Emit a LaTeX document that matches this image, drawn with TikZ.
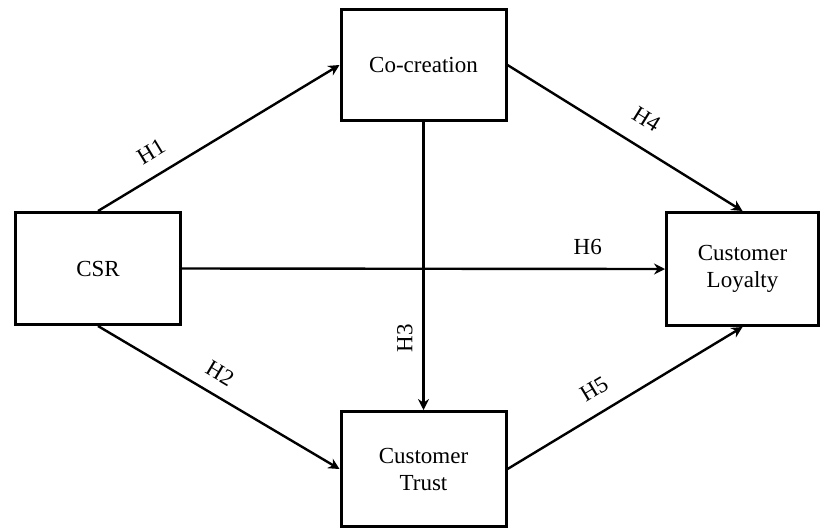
\documentclass[tikz,border=0pt]{standalone}
\usepackage{fontspec}
\setmainfont{Liberation Serif}
\usetikzlibrary{arrows.meta}

\begin{document}
\begin{tikzpicture}[x=0.5pt,y=-0.5pt,
  box/.style={draw,line width=1.5pt,minimum width=82.5pt,minimum height=56pt,inner sep=0pt,align=center,font=\fontsize{11.5}{13.5}\selectfont},
  link/.style={line width=1.2pt,-{Stealth[length=5.5pt,width=5.5pt,inset=1.8pt]}},
  hyp/.style={font=\fontsize{11.5}{13.5}\selectfont}]
\useasboundingbox (0,0) rectangle (822,531);
\draw (98,268.5)  node (1) [box] {CSR};
\draw (423.5,65)  node (2) [box,minimum height=55.5pt] {Co-creation};
\draw (423.5,469) node (3) [box,minimum height=57.5pt] {Customer\\Trust};
\draw (742.5,269) node (4) [box,minimum width=76pt,minimum height=56.5pt] {Customer\\Loyalty};

\draw[link] (1.north) -- node[hyp,pos=0.27,sloped,above=4pt] {H1} (2.west);
\draw[link] (1.south) -- node[hyp,pos=0.46,sloped,above=3pt] {H2} (3.west);
\draw[link] (2.south) -- node[hyp,pos=0.75,rotate=90,anchor=south,yshift=1.5pt] {H3} (3.north);
\draw[link] (2.east)  -- node[hyp,pos=0.53,sloped,above=6pt] {H4} (4.north);
\draw[link] (3.east)  -- node[hyp,pos=0.42,sloped,above=4pt] {H5} (4.south);
\draw[link] (1.east)  -- node[hyp,pos=0.84,above=3pt] {H6} (4.west);
\end{tikzpicture}
\end{document}
